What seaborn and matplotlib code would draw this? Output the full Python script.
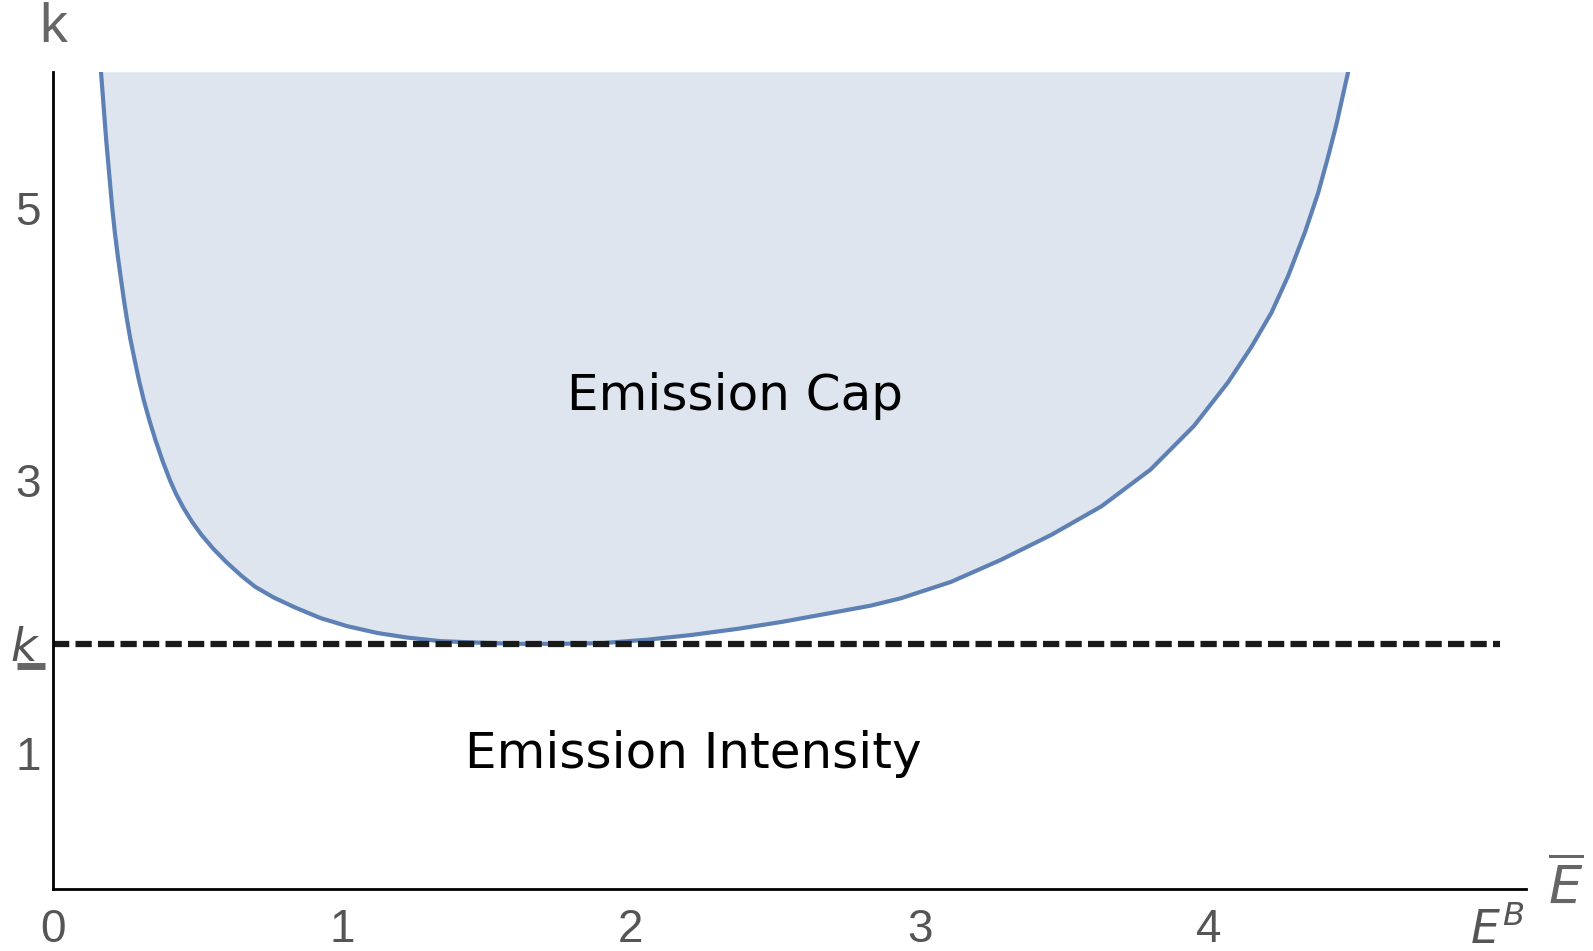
import numpy as np
import matplotlib
matplotlib.use("Agg")
import matplotlib.pyplot as plt
import matplotlib.transforms as mtransforms
import seaborn as sns

# Boundary curve of the "Emission Cap" region
e_bar = [0.166, 0.184, 0.199, 0.205, 0.214, 0.224, 0.235, 0.245, 0.256, 0.268,
         0.282, 0.297, 0.314, 0.333, 0.354, 0.378, 0.405, 0.426, 0.451, 0.480,
         0.514, 0.554, 0.600, 0.652, 0.699, 0.764, 0.838, 0.925, 1.018, 1.122,
         1.226, 1.341, 1.456, 1.594, 1.750, 1.900, 2.055, 2.210, 2.370, 2.520,
         2.676, 2.830, 2.936, 3.109, 3.280, 3.456, 3.630, 3.800, 3.950, 4.068,
         4.149, 4.218, 4.276, 4.334, 4.380, 4.415, 4.444, 4.467, 4.484]
k_val = [6.00, 5.50, 5.14, 5.00, 4.82, 4.65, 4.48, 4.33, 4.18, 4.035,
         3.89, 3.74, 3.59, 3.445, 3.30, 3.15, 3.00, 2.90, 2.80, 2.70,
         2.60, 2.50, 2.40, 2.30, 2.22, 2.14, 2.067, 1.99, 1.93, 1.88,
         1.846, 1.82, 1.81, 1.80, 1.80, 1.805, 1.83, 1.865, 1.91, 1.96,
         2.02, 2.08, 2.135, 2.255, 2.415, 2.60, 2.81, 3.08, 3.40, 3.72,
         3.98, 4.23, 4.50, 4.82, 5.11, 5.38, 5.62, 5.84, 6.00]

k_bar = 1.80        # dashed threshold
e_b = 5.0           # E^B position on x axis
dash_end = 5.01

x_ticks = [0, 1, 2, 3, 4, e_b]
x_labels = ["0", "1", "2", "3", "4", r"$E^B$"]
y_ticks = [1, k_bar, 3, 5]
y_labels = ["1", r"$k$", "3", "5"]
xmax, ymax = 5.1, 6.0

line_col = "#5e81b5"
fill_col = "#dfe5ef"
gray = "#666666"

sns.set_style("white")
plt.rcParams["font.family"] = ["Liberation Sans", "DejaVu Sans"]
plt.rcParams["mathtext.fontset"] = "dejavusans"

fig = plt.figure(figsize=(15.93, 9.51), dpi=100)
ax = fig.add_axes([0.0333, 0.0652, 0.958 - 0.0333, 0.8593])

ax.fill_between(e_bar, k_val, ymax, color=fill_col, lw=0)
sns.lineplot(x=e_bar, y=k_val, sort=False, estimator=None, ax=ax,
             color=line_col, lw=3)
ax.lines[-1].set_solid_joinstyle("round")
ax.hlines(k_bar, 0, dash_end, colors="#1a1a1a", lw=4.5, linestyles=(0, (2.6, 1.0)))

ax.text(2.36, 3.52, "Emission Cap", ha="center", va="baseline",
        fontsize=36, family="DejaVu Sans", color="black")
ax.text(2.218, 0.89, "Emission Intensity", ha="center", va="baseline",
        fontsize=36, family="DejaVu Sans", color="black")

ax.set_xticks(x_ticks)
ax.set_xticklabels(x_labels)
ax.set_yticks(y_ticks)
ax.set_yticklabels(y_labels)
ax.tick_params(axis="both", direction="in", length=8.6, width=1.5, color=gray,
               labelcolor="#555555", labelsize=33)
ax.tick_params(axis="x", pad=14)
ax.tick_params(axis="y", pad=9)

# underbar under the k tick label
bar_trans = mtransforms.offset_copy(ax.get_yaxis_transform(), fig=fig,
                                    y=-22, units="dots")
ax.plot([-0.0244, -0.0054], [k_bar, k_bar], transform=bar_trans,
        color=gray, lw=5, solid_capstyle="butt", clip_on=False)

ax.set_xlim(0, xmax)
ax.set_ylim(0, ymax)

for s in ["top", "right"]:
    ax.spines[s].set_visible(False)
for s in ["left", "bottom"]:
    ax.spines[s].set_color("black")
    ax.spines[s].set_linewidth(2)

# axis labels at the ends of the axes
ax.annotate("k", xy=(0, 1), xycoords="axes fraction", xytext=(0, 13),
            textcoords="offset points", ha="center", va="bottom",
            fontsize=40, color=gray)
ax.annotate(r"$\overline{E}$", xy=(1, 0), xycoords="axes fraction", xytext=(16, 1),
            textcoords="offset points", ha="left", va="center",
            fontsize=38, color=gray)

fig.savefig("out.png", dpi=100)
